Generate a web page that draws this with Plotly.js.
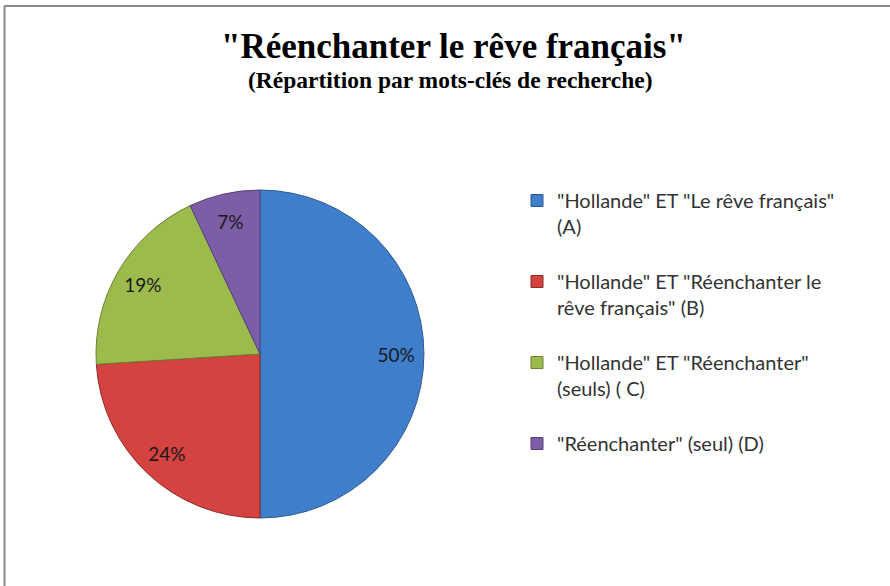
<!DOCTYPE html>
<html>
<head>
<meta charset="utf-8">
<script src="https://cdn.plot.ly/plotly-3.0.1.min.js"></script>
<style>html,body{margin:0;padding:0;background:#fff;} #chart{width:890px;height:586px;}</style>
</head>
<body>
<div id="chart"></div>
<script>
const categories = [
  '"Hollande" ET "Le rêve français"<br>(A)<br> ',
  '"Hollande" ET "Réenchanter le<br>rêve français" (B)<br> ',
  '"Hollande" ET "Réenchanter"<br>(seuls) ( C)<br> ',
  '"Réenchanter" (seul) (D)'
];
const values = [50, 24, 19, 7];
const colors = ['#3f7ecb', '#d4433f', '#9dbb4c', '#7c5ea6'];
const borders = ['#2c5a93', '#8e2a28', '#6a8234', '#52407a'];

const titleText = '"Réenchanter le rêve français"';
const subtitleText = '(Répartition par mots-clés de recherche)';

const pieDomain = {x: [96/890, 424/890], y: [1 - 518/586, 1 - 190/586]};

const slices = {
  type: 'pie',
  labels: categories,
  values: values,
  sort: false,
  direction: 'clockwise',
  rotation: 0,
  marker: {colors: colors, line: {color: borders, width: 1}},
  textinfo: 'none',
  domain: pieDomain,
  hoverinfo: 'label+percent'
};

// transparent ring used only to place the percentage labels further out, like Excel does
const labelsRing = {
  type: 'pie',
  labels: categories,
  values: values,
  sort: false,
  direction: 'clockwise',
  rotation: 0,
  hole: 0.66,
  showlegend: false,
  marker: {colors: ['rgba(0,0,0,0)','rgba(0,0,0,0)','rgba(0,0,0,0)','rgba(0,0,0,0)'], line: {width: 0}},
  textinfo: 'percent',
  texttemplate: '%{percent:.0%}',
  textposition: 'inside',
  insidetextorientation: 'horizontal',
  textfont: {family: 'Lato, "Open Sans", sans-serif', size: 19, color: '#1a1a1a'},
  domain: pieDomain,
  hoverinfo: 'skip'
};

const layout = {
  width: 890, height: 586,
  margin: {l: 0, r: 0, t: 0, b: 0},
  paper_bgcolor: '#ffffff',
  showlegend: true,
  legend: {
    x: 517/890, y: 1 - 181/586, xanchor: 'left', yanchor: 'top',
    valign: 'top',
    font: {family: 'Lato, "Open Sans", sans-serif', size: 20, color: '#333333'},
    bgcolor: 'rgba(0,0,0,0)'
  },
  annotations: [
    {text: '<b>' + titleText + '</b>', xref: 'paper', yref: 'paper', x: 453/890, y: 1 - 46/586,
     xanchor: 'center', yanchor: 'middle', showarrow: false,
     font: {family: '"Liberation Serif", "Times New Roman", serif', size: 35, color: '#000'}},
    {text: '<b>' + subtitleText + '</b>', xref: 'paper', yref: 'paper', x: 451/890, y: 1 - 80/586,
     xanchor: 'center', yanchor: 'middle', showarrow: false,
     font: {family: '"Liberation Serif", "Times New Roman", serif', size: 23.5, color: '#000'}}
  ],
  shapes: [
    {type: 'line', xref: 'paper', yref: 'paper', x0: 4.5/890, x1: 4.5/890, y0: 0, y1: 1 - 5.5/586,
     line: {color: '#888888', width: 2}},
    {type: 'line', xref: 'paper', yref: 'paper', x0: 4.5/890, x1: 1, y0: 1 - 6/586, y1: 1 - 6/586,
     line: {color: '#888888', width: 2}}
  ]
};

Plotly.newPlot('chart', [slices, labelsRing], layout, {displayModeBar: false, staticPlot: true});
</script>
</body>
</html>
